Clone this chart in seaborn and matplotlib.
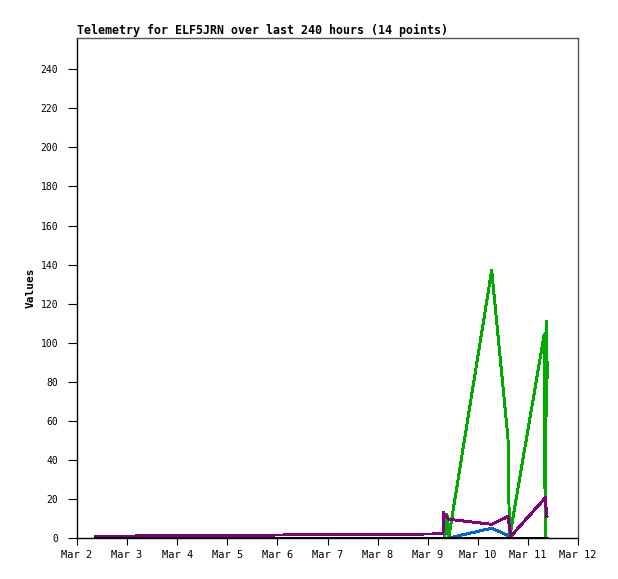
import matplotlib
matplotlib.use("Agg")
import matplotlib.pyplot as plt
import numpy as np
import pandas as pd
import seaborn as sns

# ---- data ----
times = [
    "2024-03-02 08:37", "2024-03-09 07:19", "2024-03-09 07:34", "2024-03-09 08:02",
    "2024-03-09 09:14", "2024-03-09 10:03", "2024-03-10 06:39", "2024-03-10 14:28",
    "2024-03-10 15:11", "2024-03-10 15:54", "2024-03-11 07:51", "2024-03-11 08:17",
    "2024-03-11 09:00", "2024-03-11 09:14",
]
green_vals = [0, 0, 0, 0, 12, 0, 137, 51, 0, 4.5, 104.5, 0, 111, 82]
blue_vals = [0, 0, 0, 0.5, 6, 0, 5, 1.3, 0.3, 0, 0, 0, 0, 0]
purple_vals = [0.9, 2.1, 13, 12.3, 10.5, 9.6, 7, 11, 5.4, 1, 20, 21, 11, 11]
black_vals = [0, 0, 0, 0, 0, 0, 0, 0, 0, 0, 0, 0, 0, 0]
y_ticks = list(range(0, 241, 20))
x_tick_days = ["2024-03-%02d" % d for d in range(2, 13)]
title_text = "Telemetry for ELF5JRN over last 240 hours (14 points)"
y_label = "Values"

df = pd.DataFrame({
    "time": pd.to_datetime(times),
    "green": green_vals,
    "blue": blue_vals,
    "purple": purple_vals,
    "black": black_vals,
})

sns.set_theme(style="white")
plt.rcParams["font.family"] = ["DejaVu Sans Mono", "DejaVu Sans"]
plt.rcParams["lines.antialiased"] = False
for k in ["text.color", "axes.labelcolor", "xtick.color", "ytick.color", "axes.titlecolor"]:
    plt.rcParams[k] = "black"

fig = plt.figure(figsize=(6.18, 5.79), dpi=100)
ax = fig.add_axes([77 / 618, 41 / 579, 501 / 618, 500 / 579])

series = [("blue", "#0066cc"), ("green", "#00aa00"), ("purple", "#800080"), ("black", "#000000")]
for name, col in series:
    sns.lineplot(data=df, x="time", y=name, ax=ax, color=col, linewidth=1.4,
                 sort=False, estimator=None, legend=False)

ax.set_xlim(pd.Timestamp("2024-03-02"), pd.Timestamp("2024-03-12"))
ax.set_ylim(0, 256)
ax.set_yticks(y_ticks)
ax.set_yticklabels([str(v) for v in y_ticks], fontsize=7)
xt = pd.to_datetime(x_tick_days)
ax.set_xticks(xt)
ax.set_xticklabels([f"Mar {d.day}" for d in xt], fontsize=7.5)

ax.tick_params(axis="y", direction="out", length=6.5, width=0.8, pad=7, color="black",
               labelcolor="black", left=True)
ax.tick_params(axis="x", direction="out", length=5, width=0.8, pad=4, color="black",
               labelcolor="black", bottom=True)

ax.set_xlabel("")
ax.set_ylabel(y_label, fontsize=8, fontweight="bold", color="black")
ax.yaxis.set_label_coords(-0.082, 0.5)
ax.set_title(title_text, loc="left", fontsize=8.4, fontweight="bold", pad=3, color="black")

for s in ["left", "bottom"]:
    ax.spines[s].set_color("black")
    ax.spines[s].set_linewidth(1)
for s in ["top", "right"]:
    ax.spines[s].set_color("#555555")
    ax.spines[s].set_linewidth(1)
ax.grid(False)

fig.savefig("out.png", dpi=100, facecolor="white")
